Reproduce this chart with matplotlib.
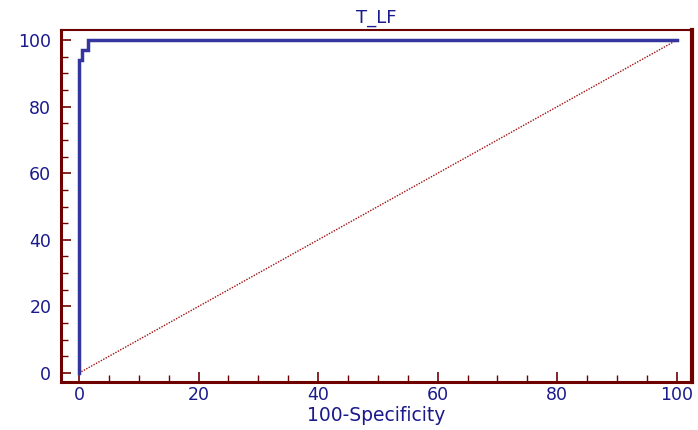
import numpy as np
import matplotlib.pyplot as plt
from matplotlib.ticker import MultipleLocator

# ROC curve points (100-Specificity, Sensitivity)
fpr = [0, 0, 0.5, 0.5, 1.5, 1.5, 100]
tpr = [0, 94, 94, 97, 97, 100, 100]
diag_x = [0, 100]
diag_y = [0, 100]
title = "T_LF"
xlabel = "100-Specificity"

red = "#6e0000"
navy = "#1a1a8c"

fig = plt.figure(figsize=(6.98, 4.30), dpi=100)
ax = fig.add_axes([0.0874, 0.1116, 0.9036, 0.8184])

ax.plot(diag_x, diag_y, color="#a01010", lw=1, ls=(0, (1, 1)))
ax.plot(fpr, tpr, color="#3535a0", lw=2.5, solid_joinstyle="miter")

ax.set_xlim(-3, 102.5)
ax.set_ylim(-2.7, 103)
ax.xaxis.set_major_locator(MultipleLocator(20))
ax.xaxis.set_minor_locator(MultipleLocator(5))
ax.yaxis.set_major_locator(MultipleLocator(20))
ax.yaxis.set_minor_locator(MultipleLocator(5))

ax.tick_params(which="both", direction="in", color=red, labelcolor=navy,
               labelsize=12.5, top=False, right=False)
ax.tick_params(which="major", length=7, width=1.2)
ax.tick_params(which="minor", length=5, width=1)
ax.tick_params(axis="y", which="major", pad=7)
ax.tick_params(axis="x", which="major", pad=3)
for lab in ax.get_xticklabels() + ax.get_yticklabels():
    lab.set_fontfamily("DejaVu Sans")

for side, w in [("left", 2.2), ("bottom", 2.2), ("top", 1.5), ("right", 3)]:
    ax.spines[side].set_color(red)
    ax.spines[side].set_linewidth(w)

ax.set_title(title, color=navy, fontsize=13, family="DejaVu Sans", pad=5)
ax.set_xlabel(xlabel, color=navy, fontsize=13.5, family="DejaVu Sans", labelpad=1)

fig.savefig("out.png", dpi=100)
